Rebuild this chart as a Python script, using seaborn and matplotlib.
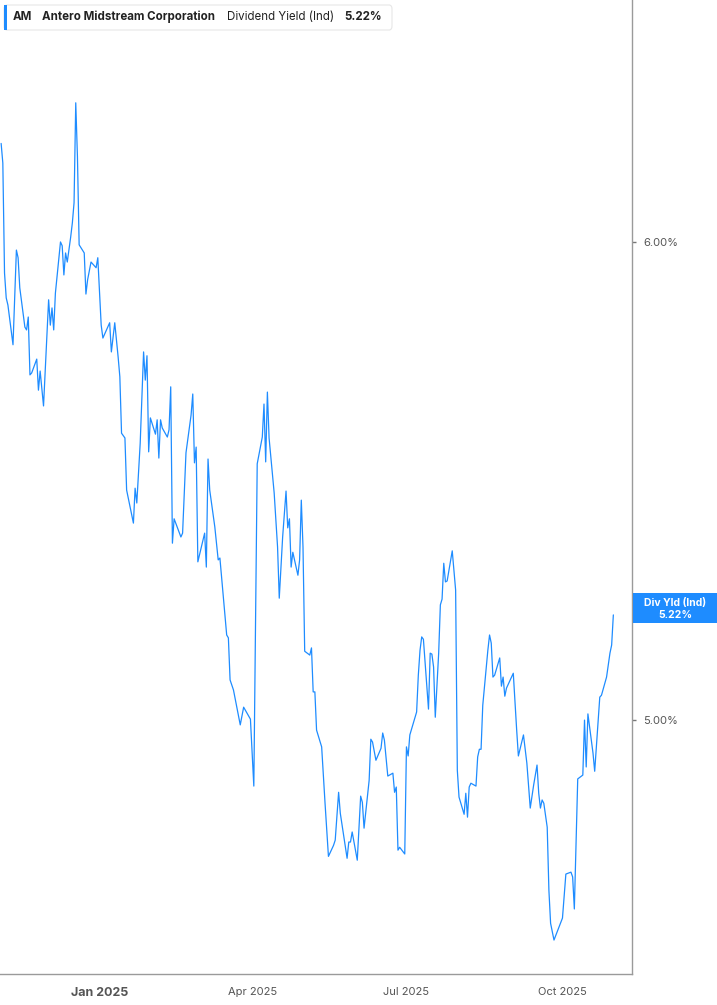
"""Antero Midstream (AM) - Dividend Yield (Ind), recriação do gráfico."""
import matplotlib.pyplot as plt
from matplotlib.patches import FancyBboxPatch, Rectangle
import pandas as pd
import seaborn as sns

sns.set_theme(style="white")
plt.rcParams["font.family"] = ["Inter", "DejaVu Sans"]

# dados
datas = [
    "2024-11-04", "2024-11-05", "2024-11-06", "2024-11-07", "2024-11-08", "2024-11-11",
    "2024-11-13", "2024-11-14", "2024-11-15", "2024-11-18", "2024-11-19", "2024-11-20",
    "2024-11-21", "2024-11-22", "2024-11-25", "2024-11-26", "2024-11-27", "2024-11-29",
    "2024-12-02", "2024-12-03", "2024-12-04", "2024-12-05", "2024-12-06", "2024-12-09",
    "2024-12-10", "2024-12-11", "2024-12-12", "2024-12-13", "2024-12-15", "2024-12-16",
    "2024-12-17", "2024-12-18", "2024-12-19", "2024-12-20", "2024-12-23", "2024-12-24",
    "2024-12-25", "2024-12-27", "2024-12-30", "2024-12-31", "2025-01-02", "2025-01-03",
    "2025-01-07", "2025-01-08", "2025-01-10", "2025-01-12", "2025-01-13", "2025-01-14",
    "2025-01-16", "2025-01-17", "2025-01-21", "2025-01-22", "2025-01-23", "2025-01-25",
    "2025-01-27", "2025-01-28", "2025-01-29", "2025-01-30", "2025-01-31", "2025-02-03",
    "2025-02-04", "2025-02-05", "2025-02-06", "2025-02-07", "2025-02-10", "2025-02-11",
    "2025-02-12", "2025-02-13", "2025-02-14", "2025-02-18", "2025-02-19", "2025-02-21",
    "2025-02-24", "2025-02-25", "2025-02-26", "2025-02-27", "2025-02-28", "2025-03-04",
    "2025-03-05", "2025-03-06", "2025-03-07", "2025-03-10", "2025-03-12", "2025-03-13",
    "2025-03-17", "2025-03-18", "2025-03-19", "2025-03-21", "2025-03-25", "2025-03-27",
    "2025-03-31", "2025-04-02", "2025-04-04", "2025-04-07", "2025-04-08", "2025-04-09",
    "2025-04-10", "2025-04-11", "2025-04-14", "2025-04-16", "2025-04-17", "2025-04-19",
    "2025-04-21", "2025-04-22", "2025-04-23", "2025-04-24", "2025-04-25", "2025-04-28",
    "2025-04-29", "2025-04-30", "2025-05-01", "2025-05-02", "2025-05-05", "2025-05-06",
    "2025-05-07", "2025-05-08", "2025-05-09", "2025-05-12", "2025-05-14", "2025-05-16",
    "2025-05-19", "2025-05-20", "2025-05-22", "2025-05-23", "2025-05-27", "2025-05-28",
    "2025-05-29", "2025-05-30", "2025-06-02", "2025-06-04", "2025-06-05", "2025-06-06",
    "2025-06-09", "2025-06-10", "2025-06-11", "2025-06-13", "2025-06-16", "2025-06-17",
    "2025-06-18", "2025-06-20", "2025-06-23", "2025-06-24", "2025-06-25", "2025-06-26",
    "2025-06-27", "2025-06-30", "2025-07-01", "2025-07-02", "2025-07-03", "2025-07-07",
    "2025-07-08", "2025-07-09", "2025-07-10", "2025-07-11", "2025-07-14", "2025-07-15",
    "2025-07-16", "2025-07-17", "2025-07-18", "2025-07-20", "2025-07-21", "2025-07-22",
    "2025-07-23", "2025-07-24", "2025-07-25", "2025-07-28", "2025-07-29", "2025-07-30",
    "2025-07-31", "2025-08-01", "2025-08-04", "2025-08-05", "2025-08-06", "2025-08-07",
    "2025-08-08", "2025-08-11", "2025-08-12", "2025-08-13", "2025-08-14", "2025-08-15",
    "2025-08-18", "2025-08-19", "2025-08-20", "2025-08-21", "2025-08-22", "2025-08-25",
    "2025-08-26", "2025-08-27", "2025-08-28", "2025-08-29", "2025-09-02", "2025-09-04",
    "2025-09-05", "2025-09-08", "2025-09-10", "2025-09-12", "2025-09-14", "2025-09-16",
    "2025-09-17", "2025-09-18", "2025-09-19", "2025-09-20", "2025-09-22", "2025-09-23",
    "2025-09-24", "2025-09-26", "2025-10-01", "2025-10-03", "2025-10-06", "2025-10-07",
    "2025-10-08", "2025-10-10", "2025-10-13", "2025-10-14", "2025-10-15", "2025-10-16",
    "2025-10-19", "2025-10-20", "2025-10-23", "2025-10-24", "2025-10-27", "2025-10-29",
    "2025-10-30", "2025-10-31",
]
rendimento = [
    6.206, 6.165, 5.935, 5.883, 5.868, 5.785,
    5.983, 5.967, 5.904, 5.822, 5.816, 5.843,
    5.722, 5.726, 5.755, 5.690, 5.730, 5.657,
    5.879, 5.826, 5.862, 5.816, 5.893, 6.000,
    5.992, 5.931, 5.977, 5.958, 6.010, 6.040,
    6.082, 6.291, 6.178, 5.994, 5.977, 5.891,
    5.921, 5.958, 5.946, 5.967, 5.826, 5.799,
    5.831, 5.770, 5.831, 5.759, 5.718, 5.600,
    5.590, 5.481, 5.412, 5.485, 5.454, 5.579,
    5.770, 5.711, 5.762, 5.561, 5.632, 5.598,
    5.628, 5.548, 5.628, 5.611, 5.592, 5.607,
    5.697, 5.370, 5.421, 5.383, 5.391, 5.559,
    5.638, 5.682, 5.538, 5.571, 5.331, 5.391,
    5.320, 5.546, 5.481, 5.404, 5.335, 5.339,
    5.178, 5.172, 5.084, 5.063, 4.990, 5.027,
    5.002, 4.862, 5.536, 5.592, 5.661, 5.540,
    5.686, 5.590, 5.475, 5.362, 5.255, 5.383,
    5.479, 5.402, 5.421, 5.320, 5.351, 5.303,
    5.335, 5.460, 5.362, 5.144, 5.136, 5.151,
    5.059, 5.059, 4.979, 4.944, 4.826, 4.715,
    4.738, 4.749, 4.849, 4.805, 4.711, 4.745,
    4.745, 4.766, 4.707, 4.841, 4.828, 4.774,
    4.874, 4.960, 4.954, 4.916, 4.941, 4.973,
    4.958, 4.883, 4.889, 4.849, 4.860, 4.728,
    4.734, 4.720, 4.944, 4.925, 4.969, 5.017,
    5.094, 5.146, 5.174, 5.169, 5.023, 5.140,
    5.138, 5.111, 5.006, 5.140, 5.241, 5.253,
    5.328, 5.289, 5.291, 5.354, 5.314, 5.272,
    4.895, 4.839, 4.803, 4.847, 4.797, 4.860,
    4.868, 4.862, 4.923, 4.939, 4.939, 5.031,
    5.146, 5.178, 5.161, 5.090, 5.094, 5.130,
    5.071, 5.090, 5.050, 5.067, 5.098, 4.979,
    4.925, 4.969, 4.910, 4.816, 4.864, 4.906,
    4.847, 4.816, 4.833, 4.826, 4.776, 4.644,
    4.575, 4.540, 4.586, 4.678, 4.682, 4.672,
    4.605, 4.877, 4.885, 5.000, 4.902, 5.013,
    4.931, 4.893, 5.048, 5.052, 5.090, 5.140,
    5.157, 5.22,
]
ticks_y = [5.0, 6.0]
ticks_x = ["2025-01-01", "2025-04-01", "2025-07-01", "2025-10-01"]
rotulos_x = ["Jan 2025", "Apr 2025", "Jul 2025", "Oct 2025"]
ultimo = 5.22

AZUL = "#1E8CFF"
CINZA = "#9a9a9a"
TEXTO = "#555555"

df = pd.DataFrame({"data": pd.to_datetime(datas), "yield": rendimento})

W, H = 717, 1005
fig = plt.figure(figsize=(W / 100, H / 100), dpi=100)
ax = fig.add_axes([0, 31 / H, 632 / W, 1 - 31 / H])

sns.lineplot(data=df, x="data", y="yield", ax=ax, color=AZUL, linewidth=0.9)

ax.set_xlim(pd.Timestamp("2024-11-03 08:00"), pd.Timestamp("2025-11-11"))
ax.set_ylim(4.469, 6.506)
ax.set_xlabel("")
ax.set_ylabel("")

for s in ["left", "top"]:
    ax.spines[s].set_visible(False)
for s in ["right", "bottom"]:
    ax.spines[s].set_color(CINZA)
    ax.spines[s].set_linewidth(1.0)

ax.yaxis.tick_right()
ax.set_yticks(ticks_y)
ax.set_yticklabels([f"{v:.2f}%" for v in ticks_y])
ax.tick_params(axis="y", length=3, width=1, color="#777777", labelsize=8,
               labelcolor=TEXTO, pad=5)

ax.set_xticks(pd.to_datetime(ticks_x))
ax.set_xticklabels(rotulos_x)
ax.tick_params(axis="x", length=5, width=1, color=CINZA, labelsize=8,
               labelcolor=TEXTO, pad=4)
lbl0 = ax.get_xticklabels()[0]
lbl0.set_fontweight("bold")
lbl0.set_fontsize(9)

# caixa do cabeçalho
fig.patches.append(FancyBboxPatch((4 / W, 1 - 30 / H), 388 / W, 25 / H,
                                  boxstyle="round,pad=0,rounding_size=0.004",
                                  transform=fig.transFigure, facecolor="white",
                                  edgecolor="#e6e6e6", linewidth=0.8, zorder=5))
fig.patches.append(Rectangle((4 / W, 1 - 30 / H), 3 / W, 25 / H,
                             transform=fig.transFigure, facecolor=AZUL,
                             edgecolor="none", zorder=6))
ty = 1 - 17 / H
fig.text(13 / W, ty, "AM", fontsize=8.3, fontweight="bold", color="#222222",
         va="center", zorder=7)
fig.text(42 / W, ty, "Antero Midstream Corporation", fontsize=8.3,
         fontweight="bold", color="#222222", va="center", zorder=7)
fig.text(227 / W, ty, "Dividend Yield (Ind)", fontsize=8.3, color="#222222",
         va="center", zorder=7)
fig.text(344 / W, ty, f"{ultimo:.2f}%", fontsize=8.3, fontweight="bold",
         color="#222222", va="center", zorder=7)

# etiqueta do último valor
fig.patches.append(Rectangle((633 / W, 1 - 623 / H), 84 / W, 30 / H,
                             transform=fig.transFigure, facecolor=AZUL,
                             edgecolor="none", zorder=5))
fig.text(675 / W, 1 - 603 / H, "Div Yld (Ind)", fontsize=7.5, fontweight="bold",
         color="white", ha="center", va="center", zorder=7)
fig.text(675 / W, 1 - 615 / H, f"{ultimo:.2f}%", fontsize=7.5, fontweight="bold",
         color="white", ha="center", va="center", zorder=7)

fig.savefig("out.png", dpi=100)
